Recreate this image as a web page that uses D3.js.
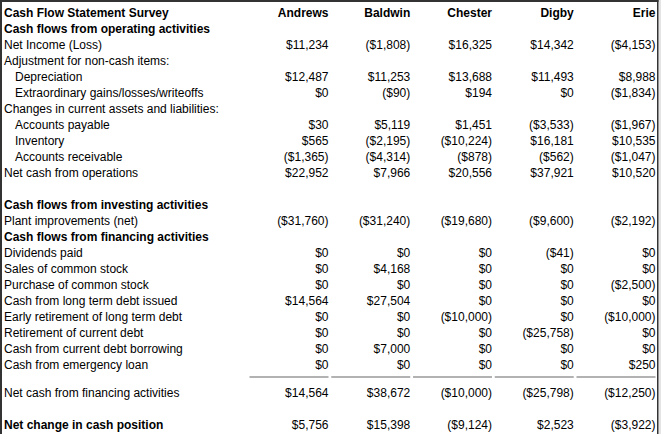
<!DOCTYPE html>
<html><head><meta charset="utf-8">
<script src="https://cdn.jsdelivr.net/npm/d3@7/dist/d3.min.js"></script>
<style>
html,body{margin:0;padding:0;background:#fff;}
svg{display:block;font-family:"Liberation Sans",Arial,sans-serif;}
</style></head>
<body>
<script>
const title = "Cash Flow Statement Survey";
const companies = ["Andrews", "Baldwin", "Chester", "Digby", "Erie"];
const rowLabels = [
  "Cash flows from operating activities",
  "Net Income (Loss)",
  "Adjustment for non-cash items:",
  "Depreciation",
  "Extraordinary gains/losses/writeoffs",
  "Changes in current assets and liabilities:",
  "Accounts payable",
  "Inventory",
  "Accounts receivable",
  "Net cash from operations",
  "",
  "Cash flows from investing activities",
  "Plant improvements (net)",
  "Cash flows from financing activities",
  "Dividends paid",
  "Sales of common stock",
  "Purchase of common stock",
  "Cash from long term debt issued",
  "Early retirement of long term debt",
  "Retirement of current debt",
  "Cash from current debt borrowing",
  "Cash from emergency loan",
  "Net cash from financing activities",
  "Net change in cash position"
];
const boldRows = ["Cash flows from operating activities","Cash flows from investing activities","Cash flows from financing activities","Net change in cash position"];
const indentRows = ["Depreciation","Extraordinary gains/losses/writeoffs","Accounts payable","Inventory","Accounts receivable"];
// values per company, aligned with rowLabels (null = no value)
const andrews = [null, 11234, null, 12487, 0, null, 30, 565, -1365, 22952, null, null, -31760, null, 0, 0, 0, 14564, 0, 0, 0, 0, 14564, 5756];
const baldwin = [null, -1808, null, 11253, -90, null, 5119, -2195, -4314, 7966, null, null, -31240, null, 0, 4168, 0, 27504, 0, 0, 7000, 0, 38672, 15398];
const chester = [null, 16325, null, 13688, 194, null, 1451, -10224, -878, 20556, null, null, -19680, null, 0, 0, 0, 0, -10000, 0, 0, 0, -10000, -9124];
const digby   = [null, 14342, null, 11493, 0, null, -3533, 16181, -562, 37921, null, null, -9600, null, -41, 0, 0, 0, 0, -25758, 0, 0, -25798, 2523];
const erie    = [null, -4153, null, 8988, -1834, null, -1967, 10535, -1047, 10520, null, null, -2192, null, 0, 0, -2500, 0, -10000, 0, 0, 250, -12250, -3922];
const seriesValues = [andrews, baldwin, chester, digby, erie];

const W = 661, H = 434;
const svg = d3.select("body").append("svg").attr("width", W).attr("height", H);

// right-side grey strip and borders
svg.append("rect").attr("x", 658.5).attr("y", 0).attr("width", 3).attr("height", H).attr("fill", "#e4e4e4");
svg.append("rect").attr("x", 0).attr("y", 0).attr("width", 658.5).attr("height", 2).attr("fill", "#333");
svg.append("rect").attr("x", 0).attr("y", 0).attr("width", 2).attr("height", H).attr("fill", "#333");
svg.append("rect").attr("x", 657).attr("y", 0).attr("width", 1.5).attr("height", H).attr("fill", "#333");

// column scale: right edge of each company column
const x = d3.scalePoint().domain(companies).range([328.5, 655.5]);
const colW = 79;

// row positions: index 0 = header row
const pitch = 16;
const yBase = d3.scaleLinear().domain([0, 1]).range([13, 13 + pitch]);
function rowY(i) {
  let y = yBase(i);
  if (i >= 23) y += 12;   // gap after separator line
  if (i >= 24) y += 16;   // blank line before net change
  return y;
}

const fmtN = d3.format(",");
const fmt = v => v < 0 ? "($" + fmtN(-v) + ")" : "$" + fmtN(v);

const g = svg.append("g").attr("font-size", 12).attr("fill", "#000");

// header row
g.append("text").attr("x", 4).attr("y", rowY(0)).attr("dy", "0.35em")
  .attr("font-weight", "bold").text(title);
g.selectAll("text.hdr").data(companies).join("text").attr("class", "hdr")
  .attr("x", d => x(d)).attr("y", rowY(0)).attr("dy", "0.35em")
  .attr("text-anchor", "end").attr("font-weight", "bold").text(d => d);

// row labels
g.selectAll("text.lbl").data(rowLabels).join("text").attr("class", "lbl")
  .attr("x", d => indentRows.includes(d) ? 15 : 4)
  .attr("y", (d, i) => rowY(i + 1)).attr("dy", "0.35em")
  .attr("font-weight", d => boldRows.includes(d) ? "bold" : "normal")
  .text(d => d);

// values
companies.forEach((c, ci) => {
  const vals = seriesValues[ci].map((v, i) => ({v, i})).filter(d => d.v !== null);
  g.selectAll("text.v" + ci).data(vals).join("text").attr("class", "v" + ci)
    .attr("x", x(c)).attr("y", d => rowY(d.i + 1)).attr("dy", "0.35em")
    .attr("text-anchor", "end").text(d => fmt(d.v));
});

// separator lines above "Net cash from financing activities"
const sepY = rowY(22) + 12;
svg.selectAll("line.sep").data(companies).join("line").attr("class", "sep")
  .attr("x1", d => x(d) - colW).attr("x2", d => x(d))
  .attr("y1", sepY).attr("y2", sepY)
  .attr("stroke", "#999").attr("stroke-width", 1.5);
</script>
</body></html>
